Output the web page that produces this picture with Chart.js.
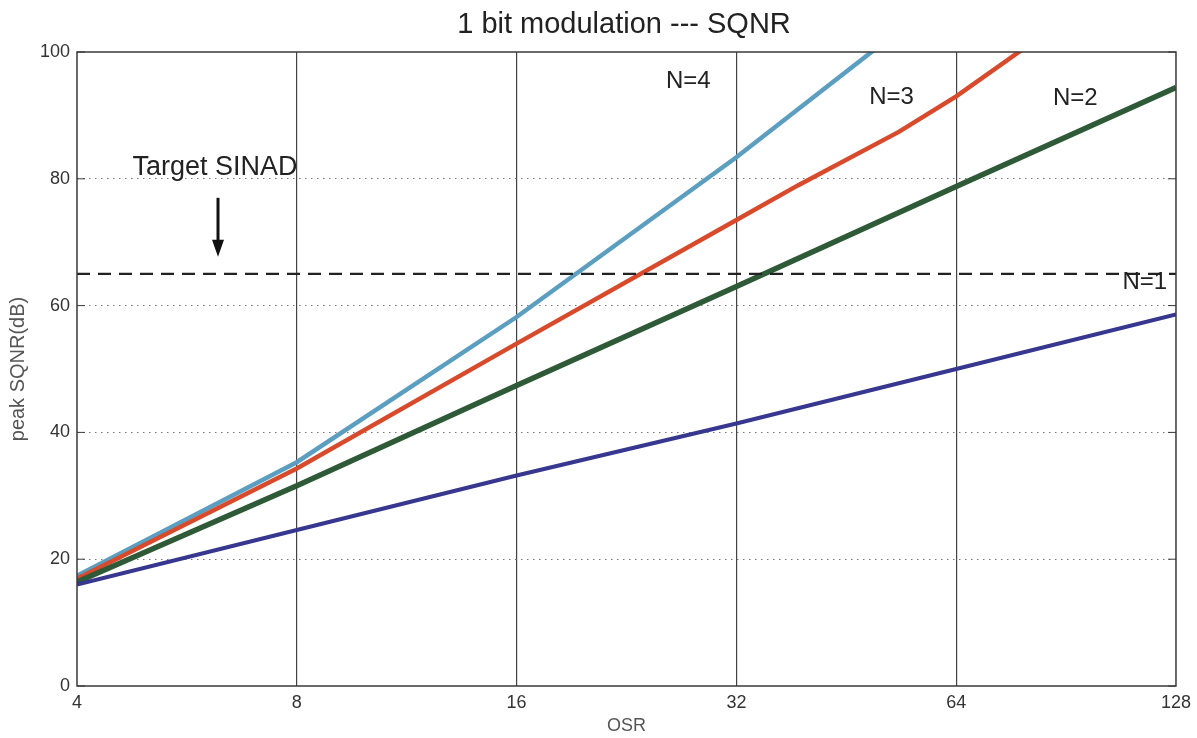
<!DOCTYPE html>
<html>
<head>
<meta charset="utf-8">
<script src="https://cdn.jsdelivr.net/npm/chart.js@4"></script>
<style>
  html, body { margin: 0; padding: 0; background: #fff; }
  #wrap { width: 1197px; height: 738px; }
</style>
</head>
<body>
<div id="wrap"><canvas id="c" width="1197" height="738"></canvas></div>
<script>
  // values (OSR on a log2 axis, SQNR in dB)
  const osrTicks = [4, 8, 16, 32, 64, 128];
  const yTicks = [0, 20, 40, 60, 80, 100];

  const n1 = [[4, 16.0], [8, 24.6], [16, 33.2], [32, 41.4], [64, 50.0], [128, 58.6]];
  const n2 = [[4, 16.4], [8, 31.6], [16, 47.4], [32, 63.0], [64, 78.8], [128, 94.4]];
  const n3 = [[4, 16.9], [8, 34.3], [16, 54.0], [32, 73.5], [38.9, 79.0], [53.4, 87.4], [64, 93.0], [78, 100.0], [128, 117]];
  const n4 = [[4, 17.4], [8, 35.3], [16, 58.2], [32, 83.4], [49, 100.0], [64, 110]];
  const targetSinad = 65;

  const labels = [
    { text: 'N=4', x: 27.5, y: 95.3, size: 24 },
    { text: 'N=3', x: 52.2, y: 92.9, size: 24 },
    { text: 'N=2', x: 93.2, y: 92.7, size: 24 },
    { text: 'N=1', x: 116, y: 63.7, size: 24 },
    { text: 'Target SINAD', x: 6.18, y: 81.7, size: 27 },
  ];

  const font = '"Liberation Sans", Arial, sans-serif';

  function toXY(points) {
    return points.map((p) => ({ x: p[0], y: p[1] }));
  }

  function lineSet(label, points, color, width) {
    return {
      label,
      data: toXY(points),
      borderColor: color,
      backgroundColor: color,
      borderWidth: width,
      pointRadius: 0,
      tension: 0,
      clip: 0,
    };
  }

  const decorations = {
    id: 'decorations',
    afterDatasetsDraw(chart) {
      const { ctx, chartArea, scales } = chart;
      const x = scales.x;
      const y = scales.y;
      ctx.save();

      // frame
      ctx.strokeStyle = '#3a3a3a';
      ctx.lineWidth = 1.5;
      ctx.strokeRect(chartArea.left, chartArea.top, chartArea.right - chartArea.left, chartArea.bottom - chartArea.top);

      // small inner ticks on the left and right axes
      ctx.lineWidth = 1;
      yTicks.forEach((v) => {
        const py = y.getPixelForValue(v);
        ctx.beginPath();
        ctx.moveTo(chartArea.left, py);
        ctx.lineTo(chartArea.left + 8, py);
        ctx.moveTo(chartArea.right, py);
        ctx.lineTo(chartArea.right - 8, py);
        ctx.stroke();
      });

      // labels
      ctx.fillStyle = '#222';
      ctx.textAlign = 'center';
      ctx.textBaseline = 'middle';
      labels.forEach((l) => {
        ctx.font = l.size + 'px ' + font;
        ctx.fillText(l.text, x.getPixelForValue(l.x), y.getPixelForValue(l.y));
      });

      // arrow under "Target SINAD"
      const ax = x.getPixelForValue(6.24);
      const ay0 = y.getPixelForValue(77.0);
      const ay1 = y.getPixelForValue(67.7);
      ctx.strokeStyle = '#111';
      ctx.lineWidth = 3;
      ctx.beginPath();
      ctx.moveTo(ax, ay0);
      ctx.lineTo(ax, ay1 - 10);
      ctx.stroke();
      ctx.fillStyle = '#111';
      ctx.beginPath();
      ctx.moveTo(ax - 6, ay1 - 17);
      ctx.lineTo(ax + 6, ay1 - 17);
      ctx.lineTo(ax, ay1);
      ctx.closePath();
      ctx.fill();

      // title
      ctx.fillStyle = '#222';
      ctx.font = '29px ' + font;
      ctx.fillText('1 bit modulation --- SQNR', 624, 25);
      ctx.restore();
    },
  };

  new Chart(document.getElementById('c'), {
    type: 'line',
    data: {
      datasets: [
        {
          label: 'Target SINAD',
          data: toXY([[4, targetSinad], [128, targetSinad]]),
          borderColor: '#222',
          borderWidth: 2.2,
          borderDash: [13, 8],
          pointRadius: 0,
        },
        lineSet('N=1', n1, '#373790', 4),
        lineSet('N=2', n2, '#2e5a37', 5.5),
        lineSet('N=3', n3, '#d84a2c', 4.5),
        lineSet('N=4', n4, '#5b9ebf', 4.5),
      ],
    },
    options: {
      responsive: false,
      animation: false,
      layout: { padding: { left: 0, right: 19, top: 52, bottom: 0 } },
      plugins: { legend: { display: false }, tooltip: { enabled: false }, title: { display: false } },
      scales: {
        x: {
          type: 'logarithmic',
          min: 4,
          max: 128,
          afterBuildTicks(axis) {
            axis.ticks = osrTicks.map((v) => ({ value: v }));
          },
          afterFit(axis) {
            axis.height = 52;
          },
          ticks: {
            color: '#333',
            font: { family: font, size: 18 },
            padding: 6,
            maxRotation: 0,
            callback: (v) => String(v),
          },
          grid: {
            drawTicks: false,
            color: (c) => (c.tick && (c.tick.value === 4 || c.tick.value === 128) ? 'transparent' : '#444'),
            lineWidth: 1.2,
          },
          border: { display: false },
          title: { display: true, text: 'OSR', color: '#555', font: { family: font, size: 18 }, padding: { top: 0, bottom: 1 } },
        },
        y: {
          min: 0,
          max: 100,
          afterBuildTicks(axis) {
            axis.ticks = yTicks.map((v) => ({ value: v }));
          },
          afterFit(axis) {
            axis.width = 77;
          },
          ticks: {
            color: '#333',
            font: { family: font, size: 18 },
            padding: 7,
          },
          grid: {
            drawTicks: false,
            color: (c) => (c.tick && (c.tick.value === 0 || c.tick.value === 100) ? 'transparent' : '#777'),
            lineWidth: 1,
          },
          border: { display: false, dash: [1.5, 4.5] },
          title: { display: true, text: 'peak SQNR(dB)', color: '#555', font: { family: font, size: 20 }, padding: { top: 6, bottom: 0 } },
        },
      },
    },
    plugins: [decorations],
  });
</script>
</body>
</html>
